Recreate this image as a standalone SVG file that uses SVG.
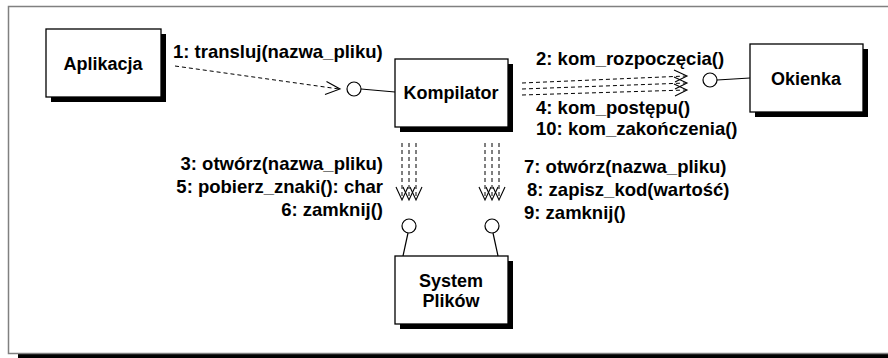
<svg xmlns="http://www.w3.org/2000/svg" width="888" height="358" viewBox="0 0 888 358">
<defs>
<style>
.frame{fill:none;stroke:#808080;stroke-width:1.5}
.box{fill:#fff;stroke:#000;stroke-width:1.3}
.sh{fill:#000}
.lbl{font-family:"Liberation Sans",Arial,sans-serif;font-weight:bold;font-size:18.5px;fill:#000}
.nl{font-family:"Liberation Sans",Arial,sans-serif;font-weight:bold;font-size:18px;fill:#000;text-anchor:middle}
.dash{fill:none;stroke:#000;stroke-width:1;stroke-dasharray:4,3}
.solid{fill:none;stroke:#000;stroke-width:1.2}
.lol{fill:#fff;stroke:#000;stroke-width:1.2}
.head{fill:none;stroke:#000;stroke-width:1.1}
</style>
</defs>
<rect x="0" y="0" width="888" height="358" fill="#fff"/>
<g id="frame">
<rect x="18" y="354" width="880" height="6" fill="#000"/>
<rect class="frame" x="8.5" y="6.5" width="900" height="347"/>
</g>
<g id="connectors">
<!-- 1 -->
<line class="dash" x1="175" y1="66" x2="339" y2="89"/>
<polyline class="head" points="326.5,81.5 340,89 325,94.5"/>
<circle class="lol" cx="354" cy="89" r="7"/>
<line class="solid" x1="361" y1="89" x2="395" y2="92"/>
<!-- to Okienka -->
<line class="dash" x1="522" y1="83" x2="686" y2="76"/>
<line class="dash" x1="522" y1="89" x2="686" y2="83"/>
<line class="dash" x1="522" y1="95" x2="686" y2="90"/>
<polyline class="head" points="674,70 687,76 675,82"/>
<polyline class="head" points="674,77 687,83 675,89"/>
<polyline class="head" points="674,84 687,90 675,96"/>
<circle class="lol" cx="710" cy="80" r="7"/>
<line class="solid" x1="717" y1="80" x2="750" y2="78"/>
<!-- down left -->
<line class="dash" x1="402" y1="143" x2="402" y2="199"/>
<line class="dash" x1="409" y1="143" x2="409" y2="199"/>
<line class="dash" x1="416" y1="143" x2="416" y2="199"/>
<polyline class="head" points="396,187 402,200 408,187"/>
<polyline class="head" points="403,187 409,200 415,187"/>
<polyline class="head" points="410,187 416,200 422,187"/>
<circle class="lol" cx="409" cy="226" r="7"/>
<line class="solid" x1="408" y1="233" x2="403" y2="256"/>
<!-- down right -->
<line class="dash" x1="485" y1="143" x2="485" y2="199"/>
<line class="dash" x1="492" y1="143" x2="492" y2="199"/>
<line class="dash" x1="499" y1="143" x2="499" y2="199"/>
<polyline class="head" points="479,187 485,200 491,187"/>
<polyline class="head" points="486,187 492,200 498,187"/>
<polyline class="head" points="493,187 499,200 505,187"/>
<circle class="lol" cx="492" cy="226" r="7"/>
<line class="solid" x1="493" y1="233" x2="498" y2="256"/>
</g>
<g id="labels">
<text class="lbl" x="173" y="58">1: transluj(nazwa_pliku)</text>
<text class="lbl" x="536" y="65">2: kom_rozpoczęcia()</text>
<text class="lbl" x="536" y="114">4: kom_postępu()</text>
<text class="lbl" x="536" y="135">10: kom_zakończenia()</text>
<text class="lbl" x="383" y="170" text-anchor="end">3: otwórz(nazwa_pliku)</text>
<text class="lbl" x="383" y="193" text-anchor="end">5: pobierz_znaki(): char</text>
<text class="lbl" x="383" y="216" text-anchor="end">6: zamknij()</text>
<text class="lbl" x="524" y="173">7: otwórz(nazwa_pliku)</text>
<text class="lbl" x="527" y="196">8: zapisz_kod(wartość)</text>
<text class="lbl" x="524" y="219">9: zamknij()</text>
</g>
<g id="aplikacja">
<rect class="sh" x="51" y="34" width="115" height="68"/>
<rect class="box" x="46" y="29" width="115" height="68"/>
<text class="nl" x="103" y="70">Aplikacja</text>
</g>
<g id="kompilator">
<rect class="sh" x="400" y="64" width="113" height="68"/>
<rect class="box" x="395" y="59" width="113" height="68"/>
<text class="nl" x="451" y="99">Kompilator</text>
</g>
<g id="okienka">
<rect class="sh" x="755" y="49" width="113" height="68"/>
<rect class="box" x="750" y="44" width="113" height="68"/>
<text class="nl" x="806" y="85">Okienka</text>
</g>
<g id="system">
<rect class="sh" x="400" y="261" width="113" height="68"/>
<rect class="box" x="395" y="256" width="113" height="68"/>
<text class="nl" x="451" y="287">System</text>
<text class="nl" x="451" y="307">Plików</text>
</g>
</svg>
